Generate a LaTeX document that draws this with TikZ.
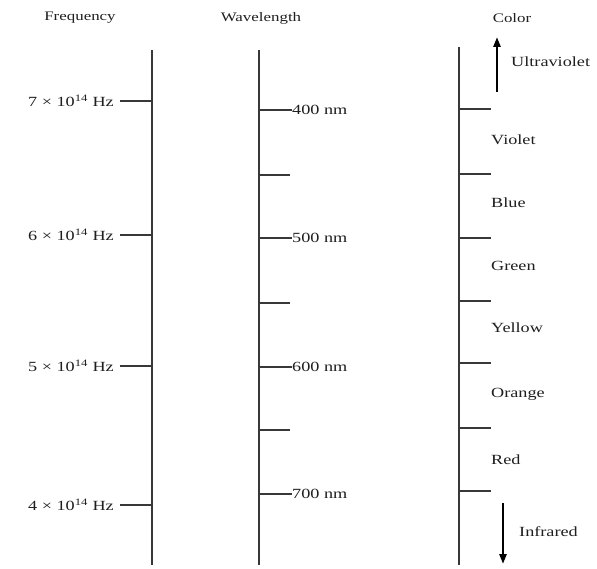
\documentclass[tikz,border=0pt]{standalone}
\usepackage{fontspec}
\setmainfont{Liberation Serif}[FakeStretch=1.3]
\usetikzlibrary{arrows.meta}
\begin{document}
\begin{tikzpicture}[x=1pt,y=-1pt,
  axis/.style={draw=black!78, line width=1.2pt},
  tickline/.style={draw=black!78, line width=1.1pt},
  lbl/.style={font=\fontsize{14}{16}\selectfont, text=black!88, inner sep=0pt},
  hdr/.style={font=\fontsize{13}{15}\selectfont, text=black!88, inner sep=0pt},
  bigarrow/.style={draw=black, line width=2.8pt, -{Triangle[length=10pt,width=7pt]}}]
\useasboundingbox[fill=white] (0,0) rectangle (597,569);

% headers
\node[hdr] (hfreq) at (80,18) {Frequency};
\node[hdr] (hwave) at (261,18) {Wavelength};
\node[hdr] (hcol) at (512,18) {Color};

% axes
\coordinate (ftop) at (152,50);
\coordinate (fbot) at (152,565);
\coordinate (wtop) at (259,50);
\coordinate (wbot) at (259,565);
\coordinate (ctop) at (459,47);
\coordinate (cbot) at (459,565);
\draw[axis] (ftop) -- (fbot);
\draw[axis] (wtop) -- (wbot);
\draw[axis] (ctop) -- (cbot);

% frequency ticks
\foreach \n/\y in {7/101,6/235,5/366,4/505}{
  \node[lbl, anchor=east] (f\n) at (114,\y) {\n\ × 10\textsuperscript{14}\ Hz};
  \coordinate (fa\n) at (152,\y);
  \draw[tickline] ([xshift=6pt]f\n.east) -- (fa\n);
}

% wavelength ticks
\foreach \n/\y in {400/110,500/238,600/367,700/494}{
  \coordinate (wa\n) at (259,\y);
  \node[lbl, anchor=west] (w\n) at (292,\y) {\n\ nm};
  \draw[tickline] (wa\n) -- (w\n.west);
}
\foreach \k/\y in {a/175,b/303,c/430}{
  \coordinate (ws\k) at (259,\y);
  \coordinate (we\k) at (290,\y);
  \draw[tickline] (ws\k) -- (we\k);
}

% color ticks
\foreach \k/\y in {1/109,2/174,3/238,4/301,5/363,6/428,7/491}{
  \coordinate (cs\k) at (459,\y);
  \coordinate (ce\k) at (491,\y);
  \draw[tickline] (cs\k) -- (ce\k);
}

% color labels
\foreach \t/\y in {Violet/140,Blue/203,Green/266,Yellow/328,Orange/394,Red/460}{
  \node[lbl, anchor=west] (l\t) at (491,\y) {\t};
}

% arrows
\coordinate (uvs) at (497,92);
\coordinate (uve) at (497,37);
\draw[bigarrow] (uvs) -- (uve);
\node[lbl, anchor=west] (luv) at (511,62) {Ultraviolet};
\coordinate (irs) at (503,503);
\coordinate (ire) at (503,564);
\draw[bigarrow] (irs) -- (ire);
\node[lbl, anchor=west] (lir) at (519,532) {Infrared};
\end{tikzpicture}
\end{document}
